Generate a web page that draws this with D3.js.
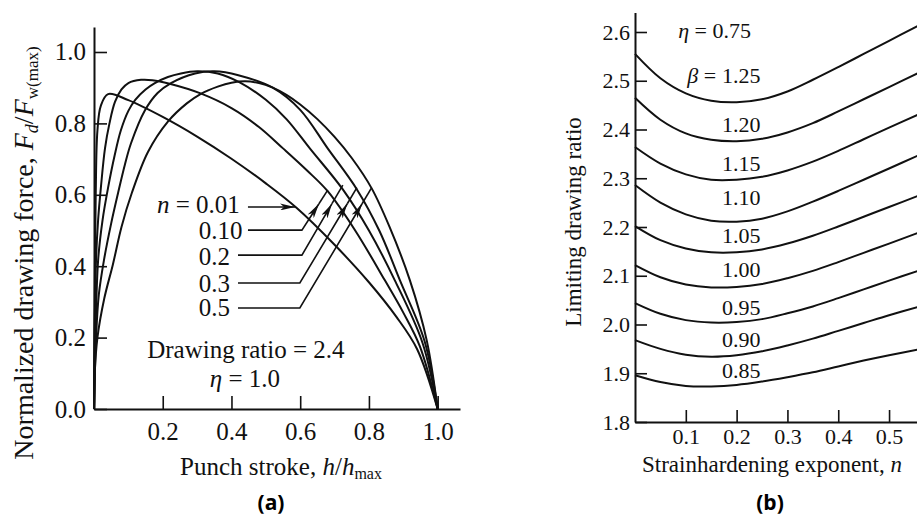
<!DOCTYPE html>
<html>
<head>
<meta charset="utf-8">
<script src="https://cdn.jsdelivr.net/npm/d3@7"></script>
<style>
  html, body { margin: 0; background: #fff; }
  svg { display: block; }
</style>
</head>
<body>
<svg id="fig" width="917" height="518"></svg>
<script>
// ---- (a) normalized drawing force vs punch stroke, one curve per n ----
const forceN001 = [[0,0],[0.002,0.3],[0.005,0.6],[0.01,0.78],[0.02,0.85],[0.041,0.882],[0.1,0.865],[0.2,0.818],[0.3,0.763],[0.4,0.701],[0.5,0.632],[0.59,0.563],[0.7,0.46],[0.8,0.355],[0.88,0.258],[0.94,0.168],[1,0]];
const forceN010 = [[0,0],[0.002,0.22],[0.006,0.42],[0.012,0.53],[0.02,0.62],[0.032,0.73],[0.045,0.8],[0.061,0.86],[0.08,0.895],[0.1,0.913],[0.137,0.922],[0.17,0.921],[0.22,0.911],[0.31,0.884],[0.4,0.843],[0.48,0.79],[0.55,0.73],[0.62,0.668],[0.68,0.61],[0.76,0.5],[0.846,0.361],[0.9,0.27],[0.948,0.176],[1,0]];
const forceN02 = [[0,0],[0.004,0.2],[0.012,0.417],[0.025,0.53],[0.041,0.62],[0.06,0.71],[0.078,0.78],[0.1,0.835],[0.12,0.866],[0.15,0.895],[0.177,0.913],[0.215,0.93],[0.253,0.94],[0.3,0.946],[0.36,0.94],[0.424,0.915],[0.5,0.866],[0.56,0.812],[0.628,0.73],[0.724,0.615],[0.8,0.5],[0.875,0.361],[0.956,0.185],[1,0]];
const forceN03 = [[0,0],[0.006,0.2],[0.014,0.32],[0.029,0.417],[0.05,0.52],[0.07,0.605],[0.09,0.685],[0.108,0.745],[0.148,0.836],[0.185,0.885],[0.224,0.913],[0.294,0.94],[0.35,0.946],[0.42,0.935],[0.52,0.9],[0.6,0.838],[0.68,0.73],[0.765,0.615],[0.83,0.5],[0.89,0.361],[0.962,0.19],[1,0]];
const forceN05 = [[0,0],[0.002,0.1],[0.01,0.2],[0.03,0.31],[0.055,0.405],[0.08,0.51],[0.11,0.605],[0.157,0.72],[0.215,0.805],[0.27,0.856],[0.311,0.883],[0.36,0.903],[0.4,0.914],[0.44,0.918],[0.48,0.913],[0.52,0.9],[0.56,0.88],[0.6,0.853],[0.65,0.812],[0.7,0.762],[0.75,0.703],[0.808,0.618],[0.86,0.51],[0.919,0.361],[0.968,0.193],[1,0]];
const forceCurves = [forceN001, forceN010, forceN02, forceN03, forceN05];
const nLabels = ["0.01", "0.10", "0.2", "0.3", "0.5"];
const strokeTicks = [0.2, 0.4, 0.6, 0.8, 1.0];
const forceTicks = [0, 0.2, 0.4, 0.6, 0.8, 1.0];

// leader lines of the n labels (data units of chart a)
const labelBaseY = [0.549, 0.476, 0.403, 0.328, 0.26];
const leaderY = [0.566, 0.501, 0.431, 0.353, 0.283];
const leaderStartX = [0.448, 0.448, 0.419, 0.419, 0.419];
const elbowX = [0.585, 0.605, 0.605, 0.599, 0.599];
const leaderEnd = [[0.585, 0.566], [0.68, 0.613], [0.724, 0.627], [0.765, 0.62], [0.808, 0.62]];

// ---- (b) limiting drawing ratio vs n, one curve per beta ----
const nGrid = [0, 0.05, 0.1, 0.15, 0.2, 0.25, 0.3, 0.35, 0.4, 0.45, 0.5, 0.56];
const ldrB125 = [2.555, 2.505, 2.474, 2.459, 2.456, 2.462, 2.478, 2.502, 2.528, 2.555, 2.582, 2.614];
const ldrB120 = [2.465, 2.42, 2.392, 2.379, 2.376, 2.381, 2.394, 2.413, 2.437, 2.462, 2.487, 2.517];
const ldrB115 = [2.364, 2.33, 2.308, 2.297, 2.297, 2.303, 2.316, 2.334, 2.356, 2.38, 2.404, 2.432];
const ldrB110 = [2.286, 2.25, 2.226, 2.213, 2.211, 2.217, 2.232, 2.252, 2.274, 2.297, 2.32, 2.348];
const ldrB105 = [2.202, 2.173, 2.156, 2.148, 2.148, 2.154, 2.166, 2.182, 2.201, 2.221, 2.241, 2.265];
const ldrB100 = [2.122, 2.097, 2.082, 2.076, 2.077, 2.083, 2.095, 2.11, 2.128, 2.147, 2.166, 2.189];
const ldrB095 = [2.044, 2.022, 2.009, 2.004, 2.005, 2.011, 2.023, 2.037, 2.054, 2.072, 2.09, 2.111];
const ldrB090 = [1.968, 1.95, 1.938, 1.934, 1.937, 1.945, 1.957, 1.971, 1.987, 2.003, 2.019, 2.037];
const ldrB085 = [1.896, 1.882, 1.874, 1.873, 1.876, 1.883, 1.892, 1.902, 1.914, 1.926, 1.937, 1.949];
const ldrCurves = [ldrB125, ldrB120, ldrB115, ldrB110, ldrB105, ldrB100, ldrB095, ldrB090, ldrB085];
const betaLabels = ["1.25", "1.20", "1.15", "1.10", "1.05", "1.00", "0.95", "0.90", "0.85"];
const betaLabelY = [2.495, 2.395, 2.315, 2.245, 2.167, 2.097, 2.019, 1.954, 1.89];
const ldrTicks = [1.8, 1.9, 2.0, 2.1, 2.2, 2.3, 2.4, 2.5, 2.6];
const nTicks = [0.1, 0.2, 0.3, 0.4, 0.5];

const ink = "#111";
const serif = "'Liberation Serif', 'Times New Roman', serif";
const svg = d3.select("#fig");

const styleAxis = (g, size) => {
  g.select(".domain").attr("stroke", ink).attr("stroke-width", 2);
  g.selectAll(".tick line").attr("stroke", ink).attr("stroke-width", 1.6);
  g.selectAll(".tick text").attr("fill", ink).attr("font-family", serif).attr("font-size", size);
  g.attr("font-family", null).attr("font-size", null);
};

svg.append("defs").append("marker")
  .attr("id", "head")
  .attr("markerUnits", "userSpaceOnUse")
  .attr("viewBox", "0 0 15 7")
  .attr("markerWidth", 15).attr("markerHeight", 7)
  .attr("refX", 15).attr("refY", 3.5)
  .attr("orient", "auto")
  .append("path").attr("d", "M0,0 L15,3.5 L0,7 L4,3.5 Z").attr("fill", ink);

// ================= chart (a) =================
const xA = d3.scaleLinear().domain([0, 1.065]).range([94, 460]);
const yA = d3.scaleLinear().domain([0, 1.07]).range([409, 27]);
const gA = svg.append("g");

gA.append("g").attr("transform", `translate(0,${yA(0)})`)
  .call(d3.axisBottom(xA).tickValues(strokeTicks).tickSizeInner(-13).tickSizeOuter(0).tickPadding(13).tickFormat(d3.format(".1f")))
  .call(g => styleAxis(g, 25));
gA.append("g").attr("transform", `translate(${xA(0)},0)`)
  .call(d3.axisLeft(yA).tickValues(forceTicks).tickSizeInner(-13).tickSizeOuter(0).tickPadding(8).tickFormat(d3.format(".1f")))
  .call(g => styleAxis(g, 25));

const lineA = d3.line().x(d => xA(d[0])).y(d => yA(d[1])).curve(d3.curveCatmullRom.alpha(0.5));
gA.selectAll("path.force")
  .data(forceCurves)
  .join("path")
  .attr("class", "force")
  .attr("fill", "none")
  .attr("stroke", ink)
  .attr("stroke-width", 2)
  .attr("d", lineA);

// n labels with leaders
gA.append("text")
  .attr("x", xA(0.183)).attr("y", yA(labelBaseY[0]))
  .attr("font-family", serif).attr("font-size", 25).attr("fill", ink)
  .call(t => {
    t.append("tspan").attr("font-style", "italic").text("n");
    t.append("tspan").text(" = " + nLabels[0]);
  });
gA.selectAll("text.nlab")
  .data(nLabels.slice(1))
  .join("text")
  .attr("class", "nlab")
  .attr("x", xA(0.305))
  .attr("y", (d, i) => yA(labelBaseY[i + 1]))
  .attr("font-family", serif).attr("font-size", 25).attr("fill", ink)
  .text(d => d);

nLabels.forEach((lab, i) => {
  const end = leaderEnd[i];
  if (i === 0) {
    gA.append("line")
      .attr("x1", xA(leaderStartX[i])).attr("y1", yA(leaderY[i]))
      .attr("x2", xA(end[0])).attr("y2", yA(end[1]))
      .attr("stroke", ink).attr("stroke-width", 1.6)
      .attr("marker-end", "url(#head)");
    return;
  }
  // arrow tip sits where the diagonal crosses force 0.575
  const t = (0.575 - leaderY[i]) / (end[1] - leaderY[i]);
  const tipX = elbowX[i] + t * (end[0] - elbowX[i]);
  gA.append("path")
    .attr("d", d3.line()([[xA(leaderStartX[i]), yA(leaderY[i])], [xA(elbowX[i]), yA(leaderY[i])], [xA(tipX), yA(0.575)]]))
    .attr("fill", "none").attr("stroke", ink).attr("stroke-width", 1.6)
    .attr("marker-end", "url(#head)");
  gA.append("line")
    .attr("x1", xA(tipX)).attr("y1", yA(0.575))
    .attr("x2", xA(end[0])).attr("y2", yA(end[1]))
    .attr("stroke", ink).attr("stroke-width", 1.6);
});

gA.append("text")
  .attr("x", xA(0.442)).attr("y", yA(0.143))
  .attr("text-anchor", "middle")
  .attr("font-family", serif).attr("font-size", 25).attr("fill", ink)
  .text("Drawing ratio = 2.4");
gA.append("text")
  .attr("x", xA(0.439)).attr("y", yA(0.062))
  .attr("text-anchor", "middle")
  .attr("font-family", serif).attr("font-size", 25).attr("fill", ink)
  .call(t => {
    t.append("tspan").attr("font-style", "italic").text("η");
    t.append("tspan").text(" = 1.0");
  });

// axis titles (a)
gA.append("text")
  .attr("x", 281).attr("y", 475)
  .attr("text-anchor", "middle")
  .attr("font-family", serif).attr("font-size", 25).attr("fill", ink)
  .call(t => {
    t.append("tspan").text("Punch stroke, ");
    t.append("tspan").attr("font-style", "italic").text("h");
    t.append("tspan").text("/");
    t.append("tspan").attr("font-style", "italic").text("h");
    t.append("tspan").attr("font-size", 16).attr("dy", 4).text("max");
  });
gA.append("text")
  .attr("transform", "translate(33,253) rotate(-90)")
  .attr("text-anchor", "middle")
  .attr("font-family", serif).attr("font-size", 28).attr("fill", ink)
  .call(t => {
    t.append("tspan").text("Normalized drawing force, ");
    t.append("tspan").attr("font-style", "italic").text("F");
    t.append("tspan").attr("font-style", "italic").attr("font-size", 18).attr("dy", 5).text("d");
    t.append("tspan").attr("dy", -5).text("/");
    t.append("tspan").attr("font-style", "italic").text("F");
    t.append("tspan").attr("font-size", 17).attr("dy", 5).text("w(max)");
  });

// ================= chart (b) =================
const xB = d3.scaleLinear().domain([0, 0.555]).range([635, 917]);
const yB = d3.scaleLinear().domain([1.8, 2.64]).range([422, 12.5]);
const gB = svg.append("g");

gB.append("g").attr("transform", `translate(0,${yB(1.8)})`)
  .call(d3.axisBottom(xB).tickValues(nTicks).tickSizeInner(-12).tickSizeOuter(0).tickPadding(6).tickFormat(d3.format(".1f")))
  .call(g => styleAxis(g, 22));
gB.append("g").attr("transform", `translate(${xB(0)},0)`)
  .call(d3.axisLeft(yB).tickValues(ldrTicks).tickSizeInner(-12).tickSizeOuter(0).tickPadding(5).tickFormat(d3.format(".1f")))
  .call(g => styleAxis(g, 22));

const lineB = d3.line().x((d, i) => xB(nGrid[i])).y(d => yB(d)).curve(d3.curveCatmullRom.alpha(0.5));
gB.selectAll("path.ldr")
  .data(ldrCurves)
  .join("path")
  .attr("class", "ldr")
  .attr("fill", "none")
  .attr("stroke", ink)
  .attr("stroke-width", 2)
  .attr("d", lineB);

gB.selectAll("text.blab")
  .data(betaLabels)
  .join("text")
  .attr("class", "blab")
  .attr("x", xB(0.209))
  .attr("y", (d, i) => yB(betaLabelY[i]))
  .attr("text-anchor", "middle")
  .attr("font-family", serif).attr("font-size", 22).attr("fill", ink)
  .text(d => d);
gB.append("text")
  .attr("x", xB(0.209) - 25).attr("y", yB(betaLabelY[0]))
  .attr("text-anchor", "end")
  .attr("font-family", serif).attr("font-size", 22).attr("fill", ink)
  .call(t => {
    t.append("tspan").attr("font-style", "italic").text("β");
    t.append("tspan").text(" =");
  });
gB.append("text")
  .attr("x", xB(0.085)).attr("y", yB(2.588))
  .attr("font-family", serif).attr("font-size", 22).attr("fill", ink)
  .call(t => {
    t.append("tspan").attr("font-style", "italic").text("η");
    t.append("tspan").text(" = 0.75");
  });

gB.append("text")
  .attr("x", 772).attr("y", 472)
  .attr("text-anchor", "middle")
  .attr("font-family", serif).attr("font-size", 23).attr("fill", ink)
  .call(t => {
    t.append("tspan").text("Strainhardening exponent, ");
    t.append("tspan").attr("font-style", "italic").text("n");
  });
gB.append("text")
  .attr("transform", "translate(581,222) rotate(-90)")
  .attr("text-anchor", "middle")
  .attr("font-family", serif).attr("font-size", 23).attr("fill", ink)
  .text("Limiting drawing ratio");

// panel captions
svg.selectAll("text.cap")
  .data(["(a)", "(b)"])
  .join("text")
  .attr("class", "cap")
  .attr("x", (d, i) => i ? 770 : 271)
  .attr("y", 510)
  .attr("text-anchor", "middle")
  .attr("font-family", "'Open Sans', 'DejaVu Sans', sans-serif")
  .attr("font-weight", 700).attr("font-size", 21).attr("fill", "#000")
  .text(d => d);
</script>
</body>
</html>
